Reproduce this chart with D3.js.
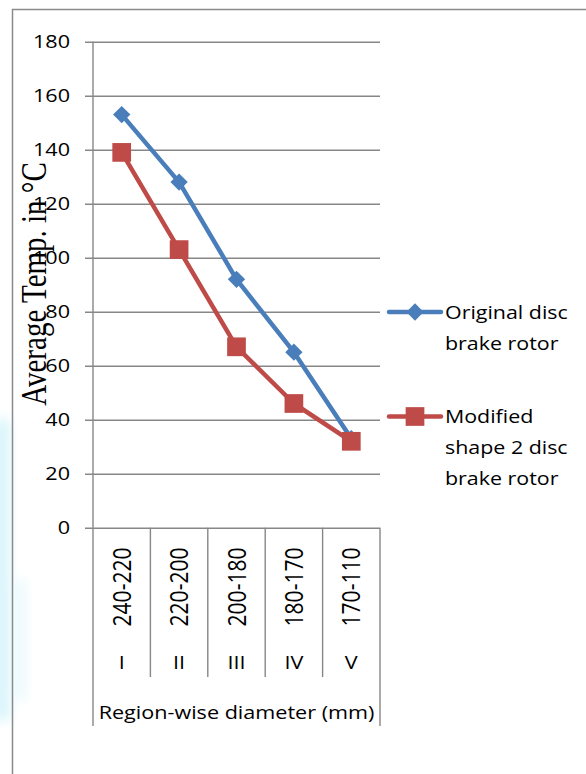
<!DOCTYPE html>
<html>
<head>
<meta charset="utf-8">
<script src="https://cdn.jsdelivr.net/npm/d3@7"></script>
<style>
  html, body { margin: 0; padding: 0; background: #fff; }
  svg { display: block; }
</style>
</head>
<body>
<svg id="chart" width="586" height="774"></svg>
<script>
// Region ranges (mm) and region numerals along the category axis
const regions = ["240-220", "220-200", "200-180", "180-170", "170-110"];
const numerals = ["I", "II", "III", "IV", "V"];

// Average temperature (°C) per region
const originalRotor = [153, 128, 92, 65, 33];
const modifiedRotor = [139, 103, 67, 46, 32];

const yTicks = [0, 20, 40, 60, 80, 100, 120, 140, 160, 180];

const seriesNames = [
  ["Original disc", "brake rotor"],
  ["Modified", "shape 2 disc", "brake rotor"]
];

const svg = d3.select("#chart");
const sansFont = "'Open Sans', 'Liberation Sans', sans-serif";
const serifFont = "'Liberation Serif', 'DejaVu Serif', serif";
const stretch = 1.2;          // horizontal widening of all labels
const gridColor = "#878787";
const blue = "#4a7ebb";
const red = "#be4b48";

// faint cyan tint along the left margin
const defs = svg.append("defs");
const blur = defs.append("filter").attr("id", "soft").attr("x", "-50%").attr("width", "200%");
blur.append("feGaussianBlur").attr("stdDeviation", 6);
svg.append("rect").attr("x", -6).attr("y", 420).attr("width", 16).attr("height", 300)
  .attr("fill", "#d8f4fb").attr("filter", "url(#soft)");
svg.append("rect").attr("x", 12).attr("y", 580).attr("width", 14).attr("height", 120)
  .attr("fill", "#e8f8fc").attr("opacity", 0.8).attr("filter", "url(#soft)");

// outer frame (left and top edges)
svg.append("line").attr("x1", 12.5).attr("x2", 12.5).attr("y1", 9).attr("y2", 774)
  .attr("stroke", "#8a8a8a").attr("stroke-width", 1.5);
svg.append("line").attr("x1", 12).attr("x2", 586).attr("y1", 9.5).attr("y2", 9.5)
  .attr("stroke", "#8a8a8a").attr("stroke-width", 1.5);

const plotLeft = 93, plotRight = 380, plotTop = 41.7, plotBottom = 527.7;

const x = d3.scaleBand().domain(regions).range([plotLeft, plotRight]).paddingInner(0).paddingOuter(0);
const y = d3.scaleLinear().domain([0, 180]).range([plotBottom, plotTop]);

// horizontal gridlines with tick marks and labels
const yAxis = d3.axisLeft(y).tickValues(yTicks).tickSize(-(plotRight - plotLeft)).tickPadding(0).tickFormat("");
const gy = svg.append("g").attr("transform", `translate(${plotLeft},0)`).call(yAxis);
gy.select(".domain").remove();
gy.selectAll(".tick line")
  .attr("x1", -8)
  .attr("stroke", gridColor).attr("stroke-width", 1.4);

svg.append("g").selectAll("text").data(yTicks).join("text")
  .attr("transform", d => `translate(70,${y(d) + 6.5}) scale(${stretch},1)`)
  .attr("text-anchor", "end")
  .attr("font-family", sansFont).attr("font-size", 18).attr("fill", "#000")
  .text(d => d);

// vertical value axis line
svg.append("line").attr("x1", plotLeft).attr("x2", plotLeft).attr("y1", plotTop).attr("y2", plotBottom)
  .attr("stroke", gridColor).attr("stroke-width", 1.4);

// category boundaries below the plot
const bounds = regions.map(r => x(r)).concat([plotRight]);
svg.append("g").selectAll("line").data(bounds).join("line")
  .attr("x1", d => d).attr("x2", d => d)
  .attr("y1", plotBottom)
  .attr("y2", (d, i) => (i === 0 || i === bounds.length - 1) ? 726 : 677)
  .attr("stroke", gridColor).attr("stroke-width", 1.4);

// region ranges, rotated
svg.append("g").selectAll("text").data(regions).join("text")
  .attr("transform", d => `translate(${x(d) + x.bandwidth() / 2 + 9},587) scale(${stretch},1) rotate(-90)`)
  .attr("text-anchor", "middle")
  .attr("font-family", sansFont).attr("font-size", 21).attr("fill", "#000")
  .text(d => d);

// region numerals
svg.append("g").selectAll("text").data(numerals).join("text")
  .attr("transform", (d, i) => `translate(${x(regions[i]) + x.bandwidth() / 2},669) scale(${stretch},1)`)
  .attr("text-anchor", "middle")
  .attr("font-family", sansFont).attr("font-size", 18).attr("fill", "#000")
  .text(d => d);

// axis titles
svg.append("text")
  .attr("transform", `translate(${(plotLeft + plotRight) / 2},719) scale(${stretch},1)`)
  .attr("text-anchor", "middle")
  .attr("font-family", sansFont).attr("font-size", 18).attr("fill", "#000")
  .text("Region-wise diameter (mm)");

svg.append("text")
  .attr("transform", `translate(46,284) scale(${stretch},1) rotate(-90)`)
  .attr("text-anchor", "middle")
  .attr("font-family", serifFont).attr("font-size", 29).attr("fill", "#000")
  .text("Average Temp. in °C");

// series lines and markers
const line = d3.line().x((d, i) => x(regions[i]) + x.bandwidth() / 2).y(d => y(d));
const diamond = d3.symbol().type(d3.symbolSquare).size(150);
const square = d3.symbol().type(d3.symbolSquare).size(350);

function drawSeries(values, color, marker, rotate) {
  const g = svg.append("g");
  g.append("path").datum(values).attr("d", line)
    .attr("fill", "none").attr("stroke", color).attr("stroke-width", 4.5)
    .attr("stroke-linejoin", "round").attr("stroke-linecap", "round");
  g.selectAll("path.marker").data(values).join("path").attr("class", "marker")
    .attr("d", marker)
    .attr("transform", (d, i) => `translate(${x(regions[i]) + x.bandwidth() / 2},${y(d)}) rotate(${rotate})`)
    .attr("fill", color);
}
drawSeries(originalRotor, blue, diamond, 45);
drawSeries(modifiedRotor, red, square, 0);

// legend
const legendItems = [
  { color: blue, marker: diamond, rotate: 45, y: 312, lines: seriesNames[0] },
  { color: red, marker: square, rotate: 0, y: 416.5, lines: seriesNames[1] }
];
legendItems.forEach(item => {
  const g = svg.append("g");
  g.append("line").attr("x1", 389).attr("x2", 441).attr("y1", item.y).attr("y2", item.y)
    .attr("stroke", item.color).attr("stroke-width", 4.5).attr("stroke-linecap", "round");
  g.append("path").attr("d", item.marker)
    .attr("transform", `translate(415,${item.y}) rotate(${item.rotate})`)
    .attr("fill", item.color);
  item.lines.forEach((t, k) => {
    g.append("text")
      .attr("transform", `translate(445,${item.y + 6.5 + k * 31}) scale(1.19,1)`)
      .attr("font-family", sansFont).attr("font-size", 18).attr("fill", "#000")
      .text(t);
  });
});
</script>
</body>
</html>
